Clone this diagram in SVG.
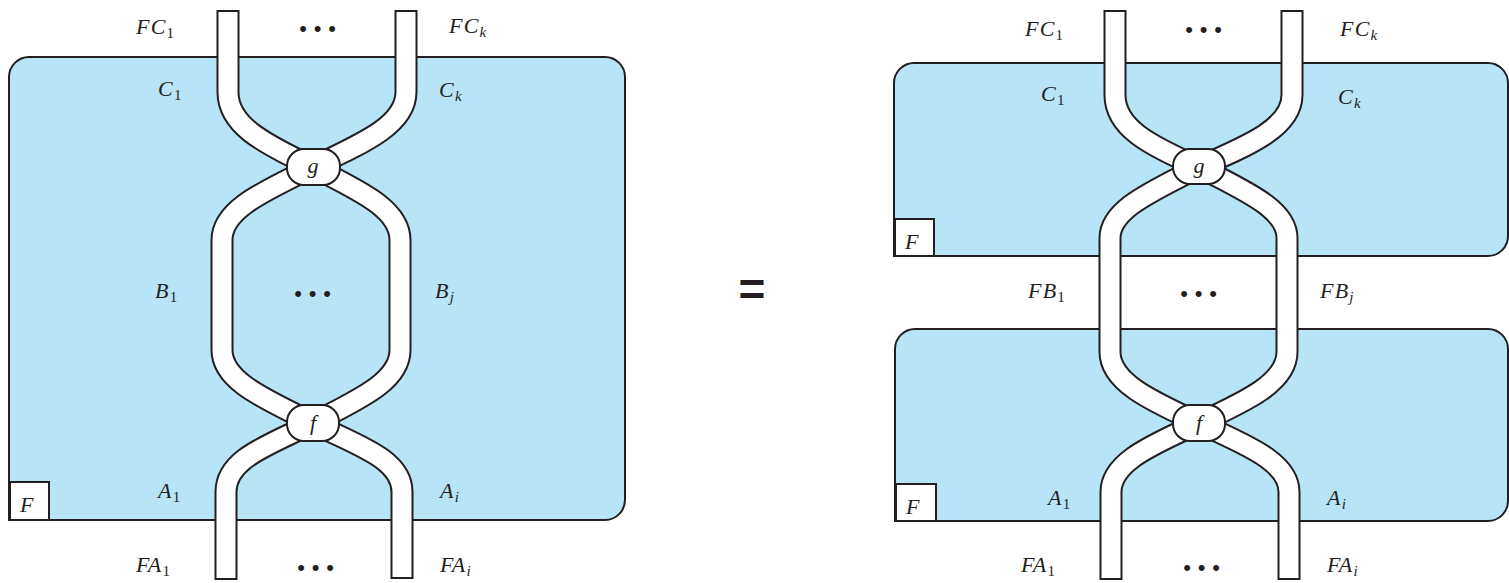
<svg xmlns="http://www.w3.org/2000/svg" width="1509" height="583" viewBox="0 0 1509 583">
<style>
.region{fill:#b8e4f8;stroke:#231f20;stroke-width:2}
.fbox{fill:#ffffff;stroke:#231f20;stroke-width:2}
.node{fill:#ffffff;stroke:#231f20;stroke-width:2}
.bo{fill:none;stroke:#231f20;stroke-width:23;stroke-linecap:butt;stroke-linejoin:round}
.bi{fill:none;stroke:#ffffff;stroke-width:19;stroke-linecap:butt;stroke-linejoin:round}
.m{font-family:"Liberation Serif",serif;font-style:italic;font-size:22px;letter-spacing:1.2px;fill:#231f20}
.s{font-size:15px;letter-spacing:0}
.n{font-style:normal}
.c{text-anchor:middle;letter-spacing:0}
.dots{font-family:"Liberation Sans",sans-serif;font-size:22px;fill:#231f20;text-anchor:middle;letter-spacing:6.8px}
.eq{font-family:"Liberation Sans",sans-serif;font-weight:bold;font-size:46px;fill:#231f20;text-anchor:middle}
</style>

<g id="region-left">
<path class="region" d="M9,520 V77 A20,20 0 0 1 29,57 H605 A20,20 0 0 1 625,77 V500 A20,20 0 0 1 605,520 Z"/>
</g>
<g id="region-right-top">
<path class="region" d="M894,256 V83 A20,20 0 0 1 914,63 H1488 A20,20 0 0 1 1508,83 V236 A20,20 0 0 1 1488,256 Z"/>
</g>
<g id="region-right-bottom">
<path class="region" d="M895,521 V349 A20,20 0 0 1 915,329 H1488 A20,20 0 0 1 1508,349 V501 A20,20 0 0 1 1488,521 Z"/>
</g>

<g id="connectors">
<g id="bands-outline">
<path class="bo" d="M228,10 V92 C228,124 260,142 313,167"/>
<path class="bo" d="M406,10 V92 C406,124 366,142 313,167"/>
<path class="bo" d="M313,167 C268,190 222,208 222,240 V350 C222,382 268,400 313,423"/>
<path class="bo" d="M313,167 C357,190 400,208 400,240 V350 C400,382 357,400 313,423"/>
<path class="bo" d="M313,423 C270,445 226,458 226,492 V580"/>
<path class="bo" d="M313,423 C355,445 402,458 402,492 V579"/>
<path class="bo" d="M1115,10 V95 C1115,127 1148,145 1199,167"/>
<path class="bo" d="M1292,10 V95 C1292,127 1250,145 1199,167"/>
<path class="bo" d="M1199,167 C1156,190 1110,208 1110,238 V352 C1110,383 1154,402 1199,423"/>
<path class="bo" d="M1199,167 C1242,190 1287,208 1287,238 V352 C1287,383 1244,402 1199,423"/>
<path class="bo" d="M1199,423 C1158,443 1111,460 1111,492 V580"/>
<path class="bo" d="M1199,423 C1240,443 1289,460 1289,492 V580"/>
</g>
<g id="bands-fill">
<path class="bi" d="M228,12 V92 C228,124 260,142 313,167"/>
<path class="bi" d="M406,12 V92 C406,124 366,142 313,167"/>
<path class="bi" d="M313,167 C268,190 222,208 222,240 V350 C222,382 268,400 313,423"/>
<path class="bi" d="M313,167 C357,190 400,208 400,240 V350 C400,382 357,400 313,423"/>
<path class="bi" d="M313,423 C270,445 226,458 226,492 V578"/>
<path class="bi" d="M313,423 C355,445 402,458 402,492 V577"/>
<path class="bi" d="M1115,12 V95 C1115,127 1148,145 1199,167"/>
<path class="bi" d="M1292,12 V95 C1292,127 1250,145 1199,167"/>
<path class="bi" d="M1199,167 C1156,190 1110,208 1110,238 V352 C1110,383 1154,402 1199,423"/>
<path class="bi" d="M1199,167 C1242,190 1287,208 1287,238 V352 C1287,383 1244,402 1199,423"/>
<path class="bi" d="M1199,423 C1158,443 1111,460 1111,492 V578"/>
<path class="bi" d="M1199,423 C1240,443 1289,460 1289,492 V578"/>
</g>
</g>

<g id="node-g-left">
<rect class="node" x="287" y="149" width="53" height="36" rx="17" ry="17"/>
<text class="m c" x="313" y="173">g</text>
</g>
<g id="node-f-left">
<rect class="node" x="287" y="405" width="52" height="36" rx="17" ry="17"/>
<text class="m c" x="313" y="430">f</text>
</g>
<g id="node-g-right">
<rect class="node" x="1173" y="149" width="52" height="35" rx="17" ry="17"/>
<text class="m c" x="1199" y="173">g</text>
</g>
<g id="node-f-right">
<rect class="node" x="1173" y="405" width="52" height="36" rx="17" ry="17"/>
<text class="m c" x="1199" y="430">f</text>
</g>

<g id="fbox-left">
<rect class="fbox" x="10" y="482" width="39" height="38"/>
<text class="m" x="20" y="512">F</text>
</g>
<g id="fbox-right-top">
<rect class="fbox" x="895" y="219" width="39" height="37"/>
<text class="m" x="905" y="249">F</text>
</g>
<g id="fbox-right-bottom">
<rect class="fbox" x="896" y="484" width="40" height="37"/>
<text class="m" x="906" y="514">F</text>
</g>

<g id="labels-left">
<text class="m" x="136" y="34">FC<tspan class="s n" dy="4">1</tspan></text>
<text class="m" x="158" y="96">C<tspan class="s n" dy="4">1</tspan></text>
<text class="m" x="449" y="33">FC<tspan class="s" dy="4">k</tspan></text>
<text class="m" x="439" y="97">C<tspan class="s" dy="4">k</tspan></text>
<text class="m" x="155" y="298">B<tspan class="s n" dy="4">1</tspan></text>
<text class="m" x="435" y="298">B<tspan class="s" dy="4">j</tspan></text>
<text class="m" x="158" y="498">A<tspan class="s n" dy="4">1</tspan></text>
<text class="m" x="440" y="498">A<tspan class="s" dy="4">i</tspan></text>
<text class="m" x="136" y="572">FA<tspan class="s n" dy="4">1</tspan></text>
<text class="m" x="440" y="572">FA<tspan class="s" dy="4">i</tspan></text>
<text class="dots" x="321" y="36">•••</text>
<text class="dots" x="316" y="301">•••</text>
<text class="dots" x="319" y="575">•••</text>
</g>

<g id="equals">
<text class="eq" x="752" y="305">=</text>
</g>

<g id="labels-right">
<text class="m" x="1025" y="36">FC<tspan class="s n" dy="4">1</tspan></text>
<text class="m" x="1041" y="101">C<tspan class="s n" dy="4">1</tspan></text>
<text class="m" x="1340" y="36">FC<tspan class="s" dy="4">k</tspan></text>
<text class="m" x="1338" y="104">C<tspan class="s" dy="4">k</tspan></text>
<text class="m" x="1028" y="298">FB<tspan class="s n" dy="4">1</tspan></text>
<text class="m" x="1320" y="298">FB<tspan class="s" dy="4">j</tspan></text>
<text class="m" x="1048" y="505">A<tspan class="s n" dy="4">1</tspan></text>
<text class="m" x="1327" y="505">A<tspan class="s" dy="4">i</tspan></text>
<text class="m" x="1021" y="572">FA<tspan class="s n" dy="4">1</tspan></text>
<text class="m" x="1327" y="572">FA<tspan class="s" dy="4">i</tspan></text>
<text class="dots" x="1207" y="37">•••</text>
<text class="dots" x="1202" y="301">•••</text>
<text class="dots" x="1205" y="575">•••</text>
</g>
</svg>
